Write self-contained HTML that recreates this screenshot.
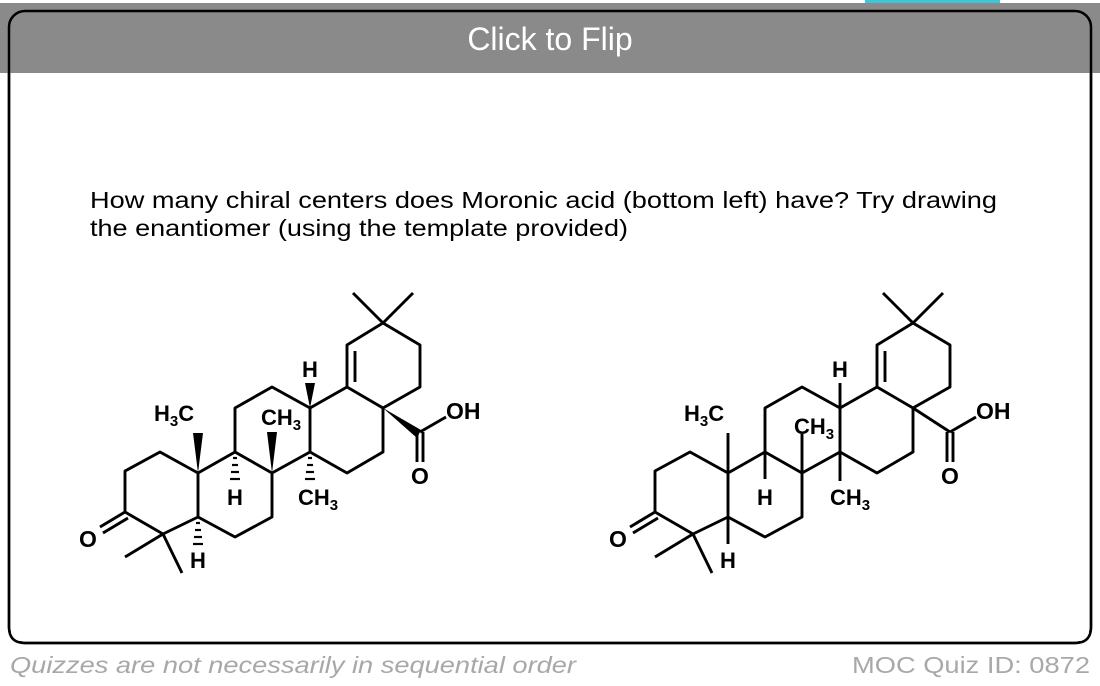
<!DOCTYPE html>
<html><head><meta charset="utf-8"><style>
html,body{margin:0;padding:0;background:#fff;}
svg{display:block;}
</style></head><body>
<svg width="1100" height="686" viewBox="0 0 1100 686" xmlns="http://www.w3.org/2000/svg" font-family="Liberation Sans, Arial, sans-serif">
<rect x="0" y="0" width="1100" height="686" fill="#fff"/>
<rect x="865" y="0" width="135" height="3" fill="#3cc8d8"/>
<rect x="0" y="3" width="1100" height="70" fill="#8a8a8a"/>
<rect x="9" y="11" width="1082" height="632" rx="16" ry="16" fill="none" stroke="#000" stroke-width="2.5"/>
<rect x="11" y="73" width="1078" height="568" fill="#fff"/>
<path d="M9 73 V627 Q9 643 25 643 H1075 Q1091 643 1091 627 V73" fill="none" stroke="#000" stroke-width="2.5"/>
<text x="550" y="50" text-anchor="middle" fill="#fff" font-size="32">Click to Flip</text>
<text x="90" y="208" font-size="23" fill="#000" textLength="907" lengthAdjust="spacingAndGlyphs">How many chiral centers does Moronic acid (bottom left) have? Try drawing</text>
<text x="90" y="236" font-size="23" fill="#000" textLength="538" lengthAdjust="spacingAndGlyphs">the enantiomer (using the template provided)</text>
<text x="10" y="673" font-size="23" fill="#a8a8a8" font-style="italic" textLength="566" lengthAdjust="spacingAndGlyphs">Quizzes are not necessarily in sequential order</text>
<text x="1090" y="673" font-size="23" fill="#a8a8a8" text-anchor="end" textLength="238" lengthAdjust="spacingAndGlyphs">MOC Quiz ID: 0872</text>

<defs>
<g id="skel" fill="none" stroke="#000" stroke-width="2.9" stroke-linejoin="round">
<polyline points="198,473 160,452 125,471 125,512 163,534 198,517 198,473"/>
<line x1="125" y1="512" x2="100" y2="527"/>
<line x1="128" y1="518" x2="103" y2="533"/>
<line x1="163" y1="534" x2="125" y2="557"/>
<line x1="163" y1="534" x2="182" y2="573"/>
<polyline points="198,473 235,452 272,473 272,517 235,537 198,517"/>
<polyline points="235,452 235,408 272,387 310,408 310,452 272,473"/>
<polyline points="310,408 347,387 383,408 383,452 347,473 310,452"/>
<polyline points="347,387 347,345 383,323 420,345 420,387 383,408"/>
<line x1="355" y1="351" x2="355" y2="382"/>
<line x1="383" y1="323" x2="353" y2="293"/>
<line x1="383" y1="323" x2="413" y2="293"/>
<line x1="420" y1="432" x2="446" y2="417"/>
<line x1="417" y1="432" x2="417" y2="462"/>
<line x1="423" y1="432" x2="423" y2="462"/>
</g>
</defs>

<!-- left molecule -->
<use href="#skel"/>
<g fill="#000">
<polygon points="198,473 193,433 203,433"/>
<polygon points="272,473 267,432 277,432"/>
<polygon points="310,408 305,383 315,383"/>
<polygon points="383,408 421,430 417,438"/>
</g>
<g stroke="#000" stroke-width="2.2">
<line x1="196" y1="523" x2="200" y2="523"/><line x1="195" y1="530" x2="201" y2="530"/><line x1="194" y1="537" x2="202" y2="537"/><line x1="193" y1="544" x2="203" y2="544"/>
<line x1="233" y1="458" x2="237" y2="458"/><line x1="232" y1="465" x2="238" y2="465"/><line x1="231" y1="472" x2="239" y2="472"/><line x1="230" y1="479" x2="240" y2="479"/>
<line x1="308" y1="458" x2="312" y2="458"/><line x1="307" y1="465" x2="313" y2="465"/><line x1="306" y1="472" x2="314" y2="472"/><line x1="305" y1="479" x2="315" y2="479"/>
</g>
<g font-weight="bold" font-size="22" fill="#000">
<text x="88" y="547" text-anchor="middle" font-size="23">O</text>
<text x="198" y="568" text-anchor="middle">H</text>
<text x="235" y="505" text-anchor="middle">H</text>
<text x="310" y="377" text-anchor="middle">H</text>
<text x="154" y="421">H<tspan font-size="15" dy="5">3</tspan><tspan dy="-5">C</tspan></text>
<text x="261" y="425">CH<tspan font-size="15" dy="5">3</tspan></text>
<text x="298" y="505">CH<tspan font-size="15" dy="5">3</tspan></text>
<text x="446" y="419" font-size="23">OH</text>
<text x="420" y="484" text-anchor="middle" font-size="23">O</text>
</g>

<!-- right molecule -->
<g transform="translate(530,0)">
<use href="#skel"/>
<g stroke="#000" stroke-width="2.9">
<line x1="198" y1="473" x2="198" y2="433"/>
<line x1="272" y1="473" x2="272" y2="434"/>
<line x1="310" y1="408" x2="310" y2="383"/>
<line x1="383" y1="408" x2="420" y2="432"/>
<line x1="198" y1="517" x2="198" y2="544"/>
<line x1="235" y1="452" x2="235" y2="479"/>
<line x1="310" y1="452" x2="310" y2="481"/>
</g>
<g font-weight="bold" font-size="22" fill="#000">
<text x="88" y="547" text-anchor="middle" font-size="23">O</text>
<text x="198" y="568" text-anchor="middle">H</text>
<text x="235" y="505" text-anchor="middle">H</text>
<text x="310" y="377" text-anchor="middle">H</text>
<text x="154" y="421">H<tspan font-size="15" dy="5">3</tspan><tspan dy="-5">C</tspan></text>
<text x="264" y="434">CH<tspan font-size="15" dy="5">3</tspan></text>
<text x="300" y="505">CH<tspan font-size="15" dy="5">3</tspan></text>
<text x="446" y="419" font-size="23">OH</text>
<text x="420" y="484" text-anchor="middle" font-size="23">O</text>
</g>
</g>
</svg>
</body></html>
